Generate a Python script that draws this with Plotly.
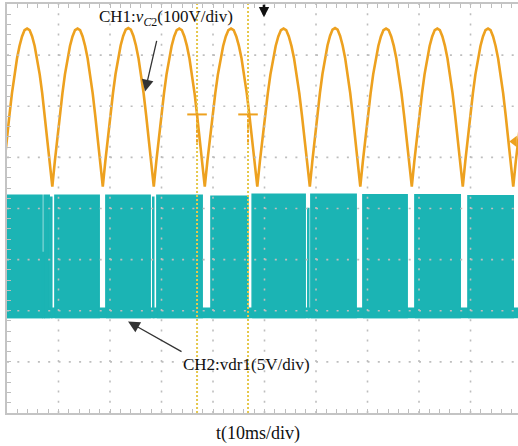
import plotly.graph_objects as go

# ---------------- data ----------------
# horizontal unit: divisions (10 ms/div); vertical unit: divisions (centre = 0)
trough_t = [-0.10, 0.88, 1.86, 2.85, 3.84, 4.86, 5.88, 6.86, 7.86, 8.85, 9.83, 10.82]
peak_v = [3.52, 3.52, 3.53, 3.52, 3.52, 3.52, 3.53, 3.52, 3.52, 3.52, 3.52]
trough_v = 0.43
# one period of CH1 (normalised, trough -> peak -> trough)
cycle_shape = [0.00, 0.16, 0.31, 0.45, 0.59, 0.71, 0.81, 0.89, 0.95, 0.99, 1.00,
               0.99, 0.95, 0.89, 0.81, 0.71, 0.59, 0.45, 0.31, 0.16, 0.00]

# CH2 : switching bursts (start, end, high level)
burst_start = [0.00, 0.68, 0.72, 0.85, 0.93, 1.92, 2.83, 2.91, 3.96, 4.76, 5.84, 5.90, 6.91, 7.92, 8.95]
burst_end   = [0.68, 0.72, 0.82, 0.87, 1.79, 2.78, 2.85, 3.79, 4.68, 5.79, 5.86, 6.78, 7.77, 8.80, 9.83]
burst_high  = [0.26, -0.86, 0.26, 0.22, 0.26, 0.26, 0.22, 0.26, 0.24, 0.28, 0.00, 0.28, 0.27, 0.27, 0.25]
ch2_low = -2.13
ch2_base_top = -1.95

cursor_t = [3.69, 4.68]
cursor_mark_v = 1.84

X_MAX = 9.922
ORANGE = "#EDA11F"
TEAL = "#1BB4B4"
FONT = "Liberation Serif"

# ---------------- build traces ----------------
ch1_x, ch1_y = [], []
n = len(cycle_shape) - 1
for k in range(len(trough_t) - 1):
    t0, t1 = trough_t[k], trough_t[k + 1]
    amp = peak_v[min(k, len(peak_v) - 1)] - trough_v
    for i, s in enumerate(cycle_shape[:-1] if k < len(trough_t) - 2 else cycle_shape):
        ch1_x.append(t0 + (t1 - t0) * i / n)
        ch1_y.append(trough_v + amp * s)

bx, by = [], []
for s, e, h in zip(burst_start, burst_end, burst_high):
    bx += [s, e, e, s, s, None]
    by += [ch2_low, ch2_low, h, h, ch2_low, None]

fig = go.Figure()
fig.add_trace(go.Scatter(x=[0, X_MAX, X_MAX, 0, 0],
                         y=[ch2_low, ch2_low, ch2_base_top, ch2_base_top, ch2_low],
                         fill="toself", fillcolor=TEAL, mode="lines",
                         line=dict(color=TEAL, width=1.5), hoverinfo="skip"))
fig.add_trace(go.Scatter(x=bx, y=by, fill="toself", fillcolor=TEAL, mode="lines",
                         line=dict(color=TEAL, width=1.5), hoverinfo="skip"))
fig.add_trace(go.Scatter(x=ch1_x, y=ch1_y, mode="lines",
                         line=dict(color=ORANGE, width=2.6), hoverinfo="skip"))
# channel level marker at right edge
fig.add_trace(go.Scatter(x=[9.85], y=[1.31], mode="markers", cliponaxis=False,
                         marker=dict(symbol="triangle-left", size=10, color=ORANGE),
                         hoverinfo="skip"))

# ---------------- grid (dotted, drawn above traces) ----------------
shapes = []
grid_col = "#BEBEBE"
for gx in range(1, 10):
    shapes.append(dict(type="line", xref="x", yref="y", x0=gx, x1=gx, y0=-4, y1=4,
                       line=dict(color=grid_col, width=1.6, dash="2px,8.2px"), layer="above"))
for gy in range(-3, 4):
    shapes.append(dict(type="line", xref="x", yref="y", x0=0, x1=X_MAX, y0=gy, y1=gy,
                       line=dict(color=grid_col, width=1.6, dash="2px,8.3px"), layer="above"))
# cursors
for ct in cursor_t:
    shapes.append(dict(type="line", xref="x", yref="y", x0=ct, x1=ct, y0=-4, y1=4,
                       line=dict(color="#E6C84C", width=2, dash="2px,2px"), layer="above"))
    shapes.append(dict(type="line", xref="x", yref="y", x0=ct - 0.19, x1=ct + 0.19,
                       y0=cursor_mark_v, y1=cursor_mark_v,
                       line=dict(color=ORANGE, width=2), layer="above"))
    shapes.append(dict(type="line", xref="x", yref="y", x0=ct, x1=ct,
                       y0=cursor_mark_v, y1=cursor_mark_v - 0.6,
                       line=dict(color=ORANGE, width=2, dash="3px,2px"), layer="above"))

annotations = [
    dict(x=3.09, y=3.72, xref="x", yref="y", showarrow=False,
         text="CH1:<i>v</i><sub><i>C</i>2</sub>(100V/div)",
         font=dict(family=FONT, size=17, color="#111")),
    dict(x=2.68, y=2.29, xref="x", yref="y", ax=12, ay=-52, text="",
         showarrow=True, arrowhead=2, arrowsize=1.8, arrowwidth=1.3, arrowcolor="#333"),
    dict(x=4.65, y=-3.05, xref="x", yref="y", showarrow=False,
         text="CH2:vdr1(5V/div)", font=dict(family=FONT, size=17, color="#111")),
    dict(x=2.35, y=-2.21, xref="x", yref="y", ax=55, ay=31, text="",
         showarrow=True, arrowhead=2, arrowsize=1.8, arrowwidth=1.3, arrowcolor="#333"),
    dict(x=4.99, y=3.74, xref="x", yref="y", ax=0, ay=-14, text="",
         showarrow=True, arrowhead=2, arrowsize=0.8, arrowwidth=2.6, arrowcolor="#111"),
    dict(x=0.491, y=-0.049, xref="paper", yref="paper", showarrow=False,
         yanchor="middle", text="t(10ms/div)", font=dict(family=FONT, size=18, color="#111")),
]

axis_common = dict(showline=True, linecolor="#C4C4C4", linewidth=1.5, ticks="inside",
                   ticklen=4, tickwidth=1, tickcolor="#BDBDBD", tick0=0, dtick=0.2,
                   showticklabels=False, showgrid=False, zeroline=False, fixedrange=True)

fig.update_layout(
    width=518, height=446,
    margin=dict(l=7, r=0, t=4, b=33),
    paper_bgcolor="white", plot_bgcolor="white",
    showlegend=False,
    xaxis=dict(range=[0, X_MAX], mirror="allticks", **axis_common),
    yaxis=dict(range=[-4, 4], mirror=False, **axis_common),
    shapes=shapes, annotations=annotations,
)

fig.write_html("out.html", config={"displayModeBar": False},
               post_script="document.body.style.margin='0';document.body.style.overflow='hidden';")
